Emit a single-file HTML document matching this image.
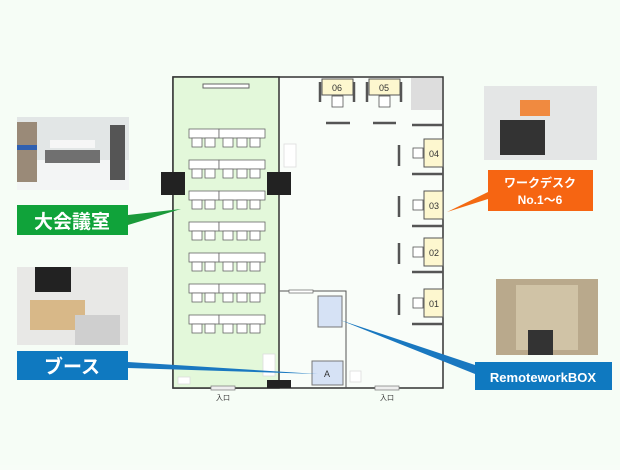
<!DOCTYPE html><html><head><style>body{margin:0;background:#f7fdf7;width:620px;height:465px;overflow:hidden;font-family:"Liberation Sans","Noto Sans CJK JP",sans-serif}</style></head><body>
<svg width="620" height="465" xmlns="http://www.w3.org/2000/svg" font-family="Liberation Sans, Noto Sans CJK JP, sans-serif">
<rect width="620" height="465" fill="#f6fdf6"/>
<rect x="173" y="77" width="270" height="311" fill="#f9fdf9" stroke="#333" stroke-width="1.5"/>
<rect x="173" y="77" width="106" height="311" fill="#e3f8da" stroke="#333" stroke-width="1.5"/>
<rect x="411" y="78" width="31" height="32" fill="#ddd"/>
<rect x="203" y="84" width="46" height="4" fill="#fff" stroke="#666"/>
<g fill="#fff" stroke="#666" stroke-width="0.8">
<g id="r"><rect x="189" y="129" width="30" height="9"/><rect x="219" y="129" width="46" height="9"/><rect x="192" y="138" width="10" height="9"/><rect x="205" y="138" width="10" height="9"/><rect x="223" y="138" width="10" height="9"/><rect x="237" y="138" width="10" height="9"/><rect x="250" y="138" width="10" height="9"/></g>
<use href="#r" y="31"/><use href="#r" y="62"/><use href="#r" y="93"/><use href="#r" y="124"/><use href="#r" y="155"/><use href="#r" y="186"/>
<rect x="284" y="144" width="12" height="23" stroke="#ddd"/>
<rect x="263" y="354" width="12" height="22" stroke="#ddd"/>
<rect x="178" y="377" width="12" height="7" stroke="#ddd"/>
<rect x="350" y="371" width="11" height="11" stroke="#ddd"/>
</g>
<rect x="161" y="172" width="24" height="23" fill="#222"/><rect x="267" y="172" width="24" height="23" fill="#222"/><rect x="267" y="380" width="24" height="8" fill="#222"/>
<g fill="#fdf7cf" stroke="#555"><rect x="322" y="79" width="31" height="16"/><rect x="369" y="79" width="31" height="16"/>
<rect x="424" y="139" width="19" height="28"/><rect x="424" y="191" width="19" height="28"/><rect x="424" y="238" width="19" height="28"/><rect x="424" y="289" width="19" height="28"/></g>
<g fill="#fff" stroke="#555" stroke-width="0.8"><rect x="332" y="96" width="11" height="11"/><rect x="379" y="96" width="11" height="11"/>
<rect x="413" y="148" width="10" height="10"/><rect x="413" y="200" width="10" height="10"/><rect x="413" y="247" width="10" height="10"/><rect x="413" y="298" width="10" height="10"/></g>
<g stroke="#555" stroke-width="2.5"><line x1="320" y1="82" x2="320" y2="102"/><line x1="354" y1="82" x2="354" y2="102"/><line x1="367" y1="82" x2="367" y2="102"/><line x1="401" y1="82" x2="401" y2="102"/>
<line x1="326" y1="123" x2="350" y2="123"/><line x1="373" y1="123" x2="396" y2="123"/><line x1="412" y1="125" x2="443" y2="125"/>
<line x1="399" y1="145" x2="399" y2="166"/><line x1="399" y1="196" x2="399" y2="217"/><line x1="399" y1="243" x2="399" y2="264"/><line x1="399" y1="294" x2="399" y2="315"/>
<line x1="412" y1="174" x2="443" y2="174"/><line x1="412" y1="226" x2="443" y2="226"/><line x1="412" y1="272" x2="443" y2="272"/><line x1="412" y1="324" x2="443" y2="324"/></g>
<g font-size="9" fill="#333" text-anchor="middle"><text x="337" y="91">06</text><text x="384" y="91">05</text><text x="434" y="157">04</text><text x="434" y="209">03</text><text x="434" y="256">02</text><text x="434" y="307">01</text></g>
<polyline points="279,291 346,291 346,388" fill="none" stroke="#555"/>
<rect x="289" y="290" width="24" height="3" fill="#fff" stroke="#666" stroke-width="0.7"/>
<rect x="318" y="296" width="24" height="31" fill="#d6e2f5" stroke="#777"/>
<rect x="312" y="361" width="31" height="24" fill="#d6e2f5" stroke="#777"/>
<text x="327" y="377" font-size="9" text-anchor="middle" fill="#333">A</text>
<rect x="211" y="386" width="24" height="4" fill="#eee" stroke="#777" stroke-width="0.7"/><rect x="375" y="386" width="24" height="4" fill="#eee" stroke="#777" stroke-width="0.7"/>
<g font-size="7" fill="#333" text-anchor="middle"><text x="223" y="400">入口</text><text x="387" y="400">入口</text></g>
<polygon points="128,215 128,225 181,209" fill="#1a9a3a"/>
<polygon points="128,362 128,368 318,374" fill="#1a78c0"/>
<polygon points="340,320 475,365 475,374" fill="#1a78c0"/>
<polygon points="447,212 488,192 488,199" fill="#f36a12"/>
<rect x="17" y="117" width="112" height="73" fill="#e2e6e6"/><rect x="17" y="160" width="112" height="30" fill="#f3f5f5"/><rect x="17" y="122" width="20" height="60" fill="#9a8a78"/><rect x="17" y="145" width="20" height="5" fill="#3060b0"/><rect x="50" y="140" width="45" height="8" fill="#f6f6f6"/><rect x="45" y="150" width="55" height="13" fill="#707070"/><rect x="110" y="125" width="15" height="55" fill="#555"/>
<rect x="17" y="267" width="111" height="78" fill="#e8e8e6"/><rect x="35" y="267" width="36" height="25" fill="#222"/><rect x="30" y="300" width="55" height="30" fill="#d8b888"/><rect x="75" y="315" width="45" height="30" fill="#cfcfcf"/>
<rect x="484" y="86" width="113" height="74" fill="#e4e6e6"/><rect x="520" y="100" width="30" height="16" fill="#f08a40"/><rect x="500" y="120" width="45" height="35" fill="#333"/>
<rect x="496" y="279" width="102" height="76" fill="#b9a98c"/><rect x="516" y="285" width="62" height="65" fill="#d0c3a6"/><rect x="528" y="330" width="25" height="25" fill="#333"/>
<rect x="17" y="205" width="111" height="30" fill="#10a33a"/><text x="72" y="228" font-size="19" font-weight="bold" fill="#fff" text-anchor="middle">大会議室</text>
<rect x="17" y="351" width="111" height="29" fill="#0f79c0"/><text x="72" y="373" font-size="19" font-weight="bold" fill="#fff" text-anchor="middle">ブース</text>
<rect x="488" y="170" width="105" height="41" fill="#f66512"/><text x="540" y="187" font-size="12" font-weight="bold" fill="#fff" text-anchor="middle">ワークデスク</text><text x="540" y="204" font-size="12" font-weight="bold" fill="#fff" text-anchor="middle">No.1～6</text>
<rect x="475" y="362" width="137" height="28" fill="#0f79c0"/><text x="543" y="382" font-size="13" font-weight="bold" fill="#fff" text-anchor="middle">RemoteworkBOX</text>
</svg></body></html>
